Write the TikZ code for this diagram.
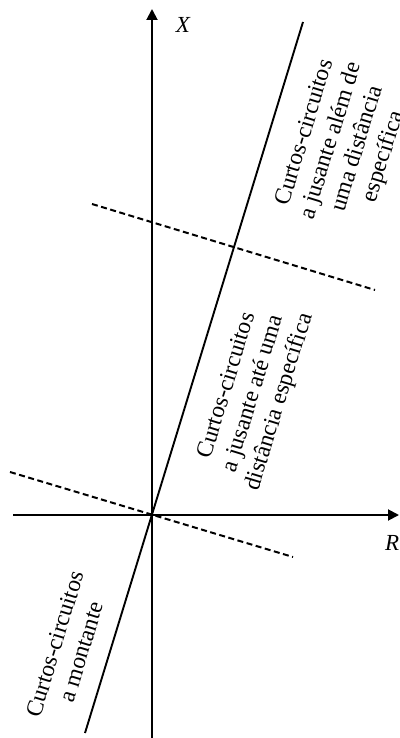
\documentclass[tikz,border=0pt]{standalone}
\usepackage{fontspec}
\setmainfont{Liberation Serif}
\usetikzlibrary{arrows.meta}
\begin{document}
\begin{tikzpicture}[x=1pt,y=-1pt,
  axis/.style={line width=1.9pt,-{Triangle[length=11pt,width=11pt]}},
  char/.style={line width=1.9pt},
  bound/.style={line width=2pt,dash pattern=on 6pt off 3.5pt},
  zone/.style={rotate=73,align=center,font=\fontsize{23.5}{27.5}\selectfont,inner sep=0pt},
  axlabel/.style={font=\fontsize{23}{26}\selectfont\itshape,inner sep=0pt}]
\useasboundingbox (0,0) rectangle (399,738);
\coordinate (O) at (152,515);
\coordinate (Xb) at (152,738);
\coordinate (Xt) at (152,9);
\coordinate (Rl) at (13,515);
\coordinate (Rr) at (399,515);
\coordinate (Lt) at (303,22);
\coordinate (Lb) at (85,733);
\coordinate (D1a) at (10,472);
\coordinate (D1b) at (293,557);
\coordinate (D2a) at (92,204);
\coordinate (D2b) at (375,290);
\draw[axis] (Xb) -- (Xt);
\draw[axis] (Rl) -- (Rr);
\draw[char] (Lb) -- (Lt);
\draw[bound] (D1a) -- (D1b);
\draw[bound] (D2a) -- (D2b);
\node[axlabel] (xl) at (183,25) {X};
\node[axlabel,anchor=west] (rl) at (385,543) {R};
\node[zone] (z1) at (345,145) {Curtos-circuitos\\a jusante além de\\uma distância\\específica};
\node[zone] (z2) at (254,394) {Curtos-circuitos\\a jusante até uma\\distância específica};
\node[zone] (z3) at (68,648) {Curtos-circuitos\\a montante};
\end{tikzpicture}
\end{document}
